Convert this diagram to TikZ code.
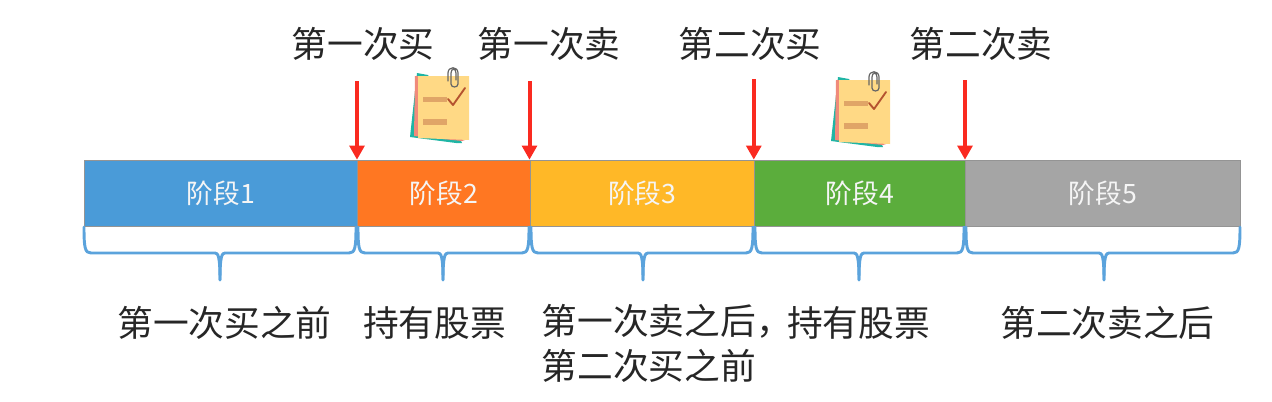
\documentclass[tikz,border=0pt]{standalone}
\usepackage{fontspec}
\setmainfont{Noto Sans CJK SC}
\usetikzlibrary{arrows.meta}
\definecolor{cblue}{HTML}{4A9BD8}
\definecolor{corange}{HTML}{FF7722}
\definecolor{cyellow}{HTML}{FFB827}
\definecolor{cgreen}{HTML}{5BAD3C}
\definecolor{cgray}{HTML}{A5A5A5}
\definecolor{cbrace}{HTML}{5BA3DC}
\definecolor{cred}{HTML}{FA2A20}
\definecolor{notey}{HTML}{FFD985}
\definecolor{notet}{HTML}{1FB5A5}
\definecolor{notes}{HTML}{F08A7A}
\definecolor{noteb}{HTML}{E0A567}
\definecolor{notec}{HTML}{B5532F}
\tikzset{
  stagebar/.style={draw=black!40!gray!60,line width=0.7pt,text=white!92!gray,anchor=north west,
    minimum height=49.5pt,inner sep=0pt,font=\fontsize{20}{22}\selectfont},
  bigtext/.style={inner sep=0pt,text=black!85,font=\fontsize{26.8}{33.75}\selectfont},
  redarrow/.style={draw=cred,line width=3pt,-{Triangle[length=10.5pt,width=11pt]}},
  bracepath/.style={draw=cbrace,line width=2.2pt,line cap=round,line join=round},
  notepic/.pic={
    \fill[notet] (-1,-3) -- (10,-1) -- (44,67) -- (38,67) -- (-8,61) -- cycle;
    \fill[notes] (-3,0) -- (10,0) -- (47,64) -- (44,65) -- (-4,60) -- cycle;
    \fill[notey] (0,0) -- (51,0) -- (51,64) -- (0,62) -- cycle;
    \fill[noteb] (5,21) rectangle (29,26);
    \fill[noteb] (5,43) rectangle (29,49);
    \draw[notec,line width=1.4pt,line cap=round,line join=round] (30,23) -- (35,29) -- (47,12);
    \draw[black!60,line width=0.9pt,line cap=round] (38,4) -- (38,-3) .. controls (38,-8) and (33,-8) .. (33,-3) -- (33,8) .. controls (33,12) and (40,12) .. (40,8) -- (40,-3) .. controls (40,-10) and (30,-10) .. (30,-3) -- (30,5);
  }
}
\begin{document}
\begin{tikzpicture}[x=0.75pt,y=-0.75pt]
\useasboundingbox (0,0) rectangle (1272,401);
% stage bars
\node[stagebar,fill=cblue,minimum width=204.75pt] (s1) at (83.8,159.7) {阶段1};
\node[stagebar,fill=corange,minimum width=129.75pt] (s2) at (356.8,159.7) {阶段2};
\node[stagebar,fill=cyellow,minimum width=168pt] (s3) at (529.8,159.7) {阶段3};
\node[stagebar,fill=cgreen,minimum width=158.25pt] (s4) at (753.8,159.7) {阶段4};
\node[stagebar,fill=cgray,minimum width=206.25pt] (s5) at (964.8,159.7) {阶段5};
% top labels
\node[bigtext] (t1) at (363,44) {第一次买};
\node[bigtext] (t2) at (549,44) {第一次卖};
\node[bigtext] (t3) at (750,44) {第二次买};
\node[bigtext] (t4) at (981,44) {第二次卖};
% arrows
\coordinate (f1) at (357,81);
\coordinate (f2) at (529.5,81);
\coordinate (f3) at (753.8,79);
\coordinate (f4) at (965,80);
\draw[redarrow] (f1) -- (f1 |- s1.north east);
\draw[redarrow] (f2) -- (f2 |- s2.north east);
\draw[redarrow] (f3) -- (f3 |- s3.north east);
\draw[redarrow] (f4) -- (f4 |- s4.north east);
% notes
\pic at (418,76) {notepic};
\pic at (839,80) {notepic};
% braces
\foreach \nm/\xa/\xb/\xt in {1/84/356/220,2/358/529/443,3/531/753/643,4/755/964/859,5/966/1240/1104}{
  \draw[bracepath] (\xa,227) .. controls (\xa,248) and (\xa+1,253) .. (\xa+7,253)
    -- (\xt-5,253) .. controls (\xt-2,253) and (\xt,256) .. (\xt,280);
  \draw[bracepath] (\xb,227) .. controls (\xb,248) and (\xb-1,253) .. (\xb-7,253)
    -- (\xt+5,253) .. controls (\xt+2,253) and (\xt,256) .. (\xt,280);
}
% bottom labels
\node[bigtext] (b1) at (224.5,323) {第一次买之前};
\node[bigtext] (b2) at (434.5,323) {持有股票};
\node[bigtext,align=left,anchor=north west] (b3) at (541.5,304) {第一次卖之后，\\第二次买之前};
\node[bigtext] (b4) at (858.5,323) {持有股票};
\node[bigtext] (b5) at (1107.5,323) {第二次卖之后};
\end{tikzpicture}
\end{document}
